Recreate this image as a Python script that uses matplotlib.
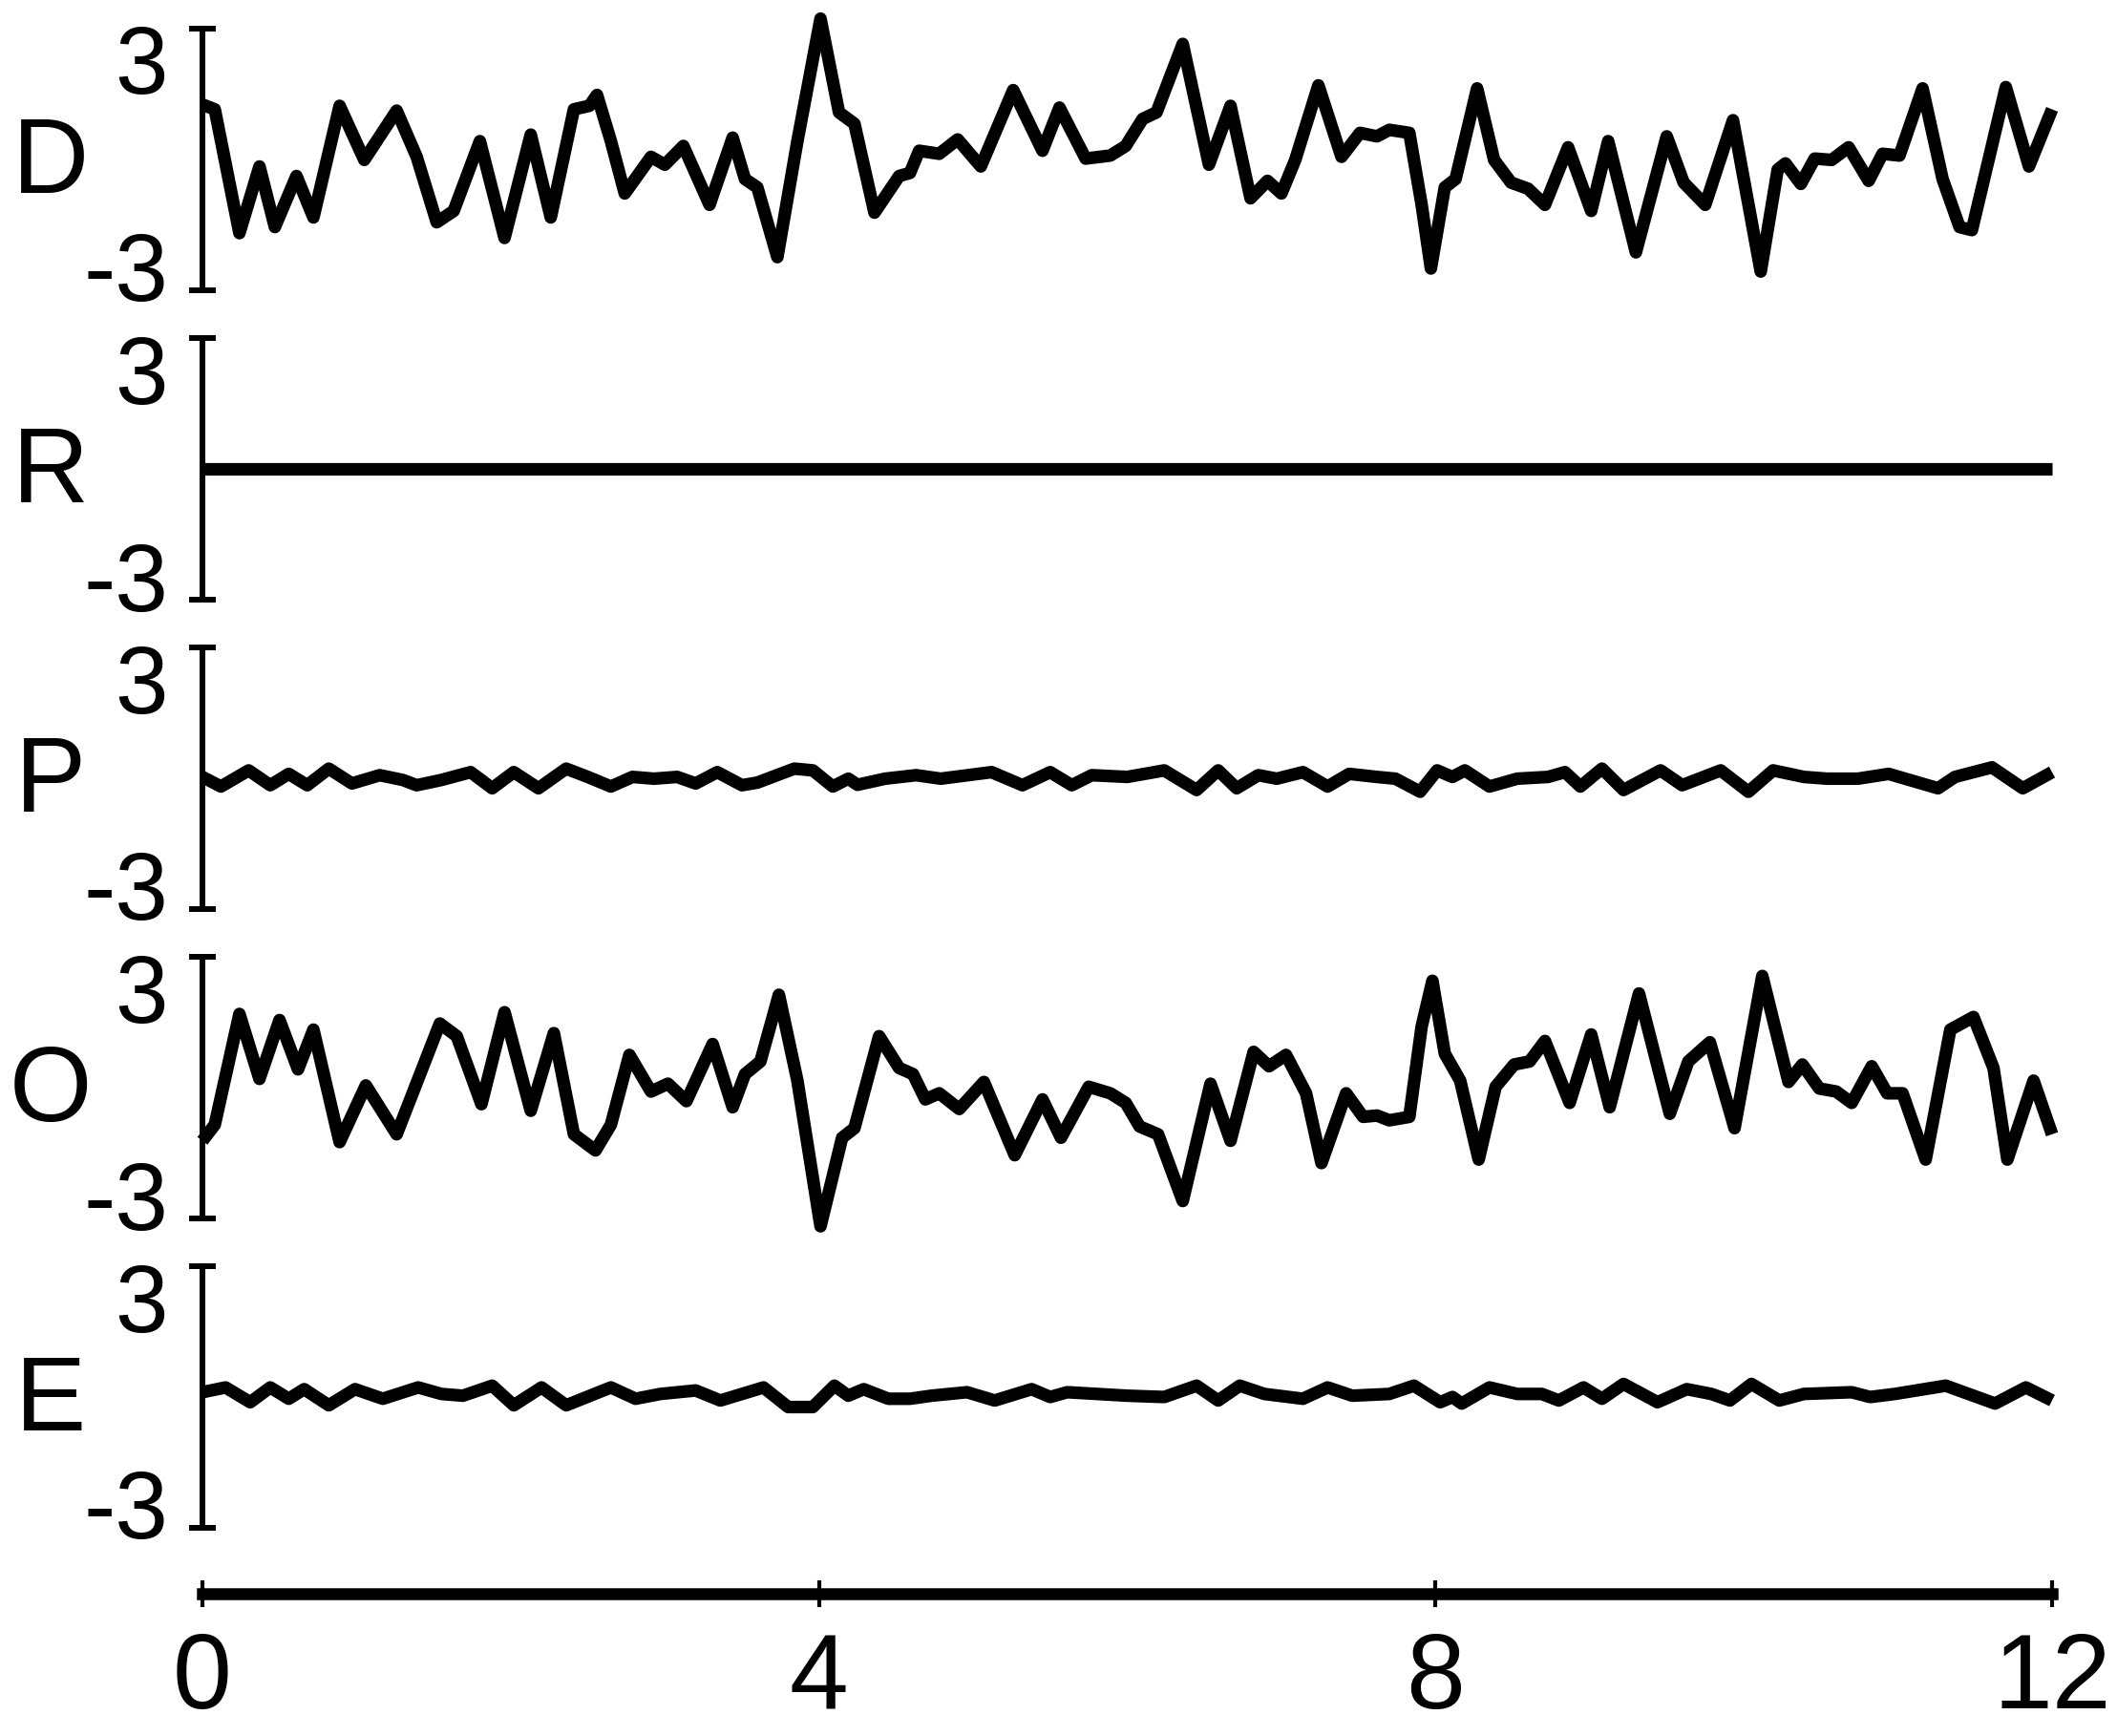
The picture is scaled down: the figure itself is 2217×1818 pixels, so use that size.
import matplotlib
matplotlib.use("Agg")
import matplotlib.pyplot as plt
from matplotlib.transforms import ScaledTranslation

plt.rcParams['font.family'] = ['Liberation Sans', 'DejaVu Sans']

# series (time, value)
d_time = [0, 0.08, 0.24, 0.37, 0.47, 0.61, 0.72, 0.89, 1.05, 1.26,
          1.39, 1.52, 1.63, 1.80, 1.96, 2.13, 2.26, 2.41, 2.51, 2.56,
          2.65, 2.74, 2.91, 3.00, 3.12, 3.29, 3.44, 3.52, 3.60, 3.73,
          3.86, 4.01, 4.13, 4.23, 4.36, 4.52, 4.59, 4.65, 4.78, 4.90,
          5.05, 5.26, 5.45, 5.56, 5.73, 5.89, 5.99, 6.10, 6.19, 6.36,
          6.53, 6.67, 6.80, 6.91, 7.00, 7.09, 7.24, 7.39, 7.51, 7.62,
          7.70, 7.83, 7.91, 7.97, 8.06, 8.13, 8.27, 8.38, 8.49, 8.60,
          8.71, 8.86, 9.01, 9.12, 9.30, 9.50, 9.61, 9.75, 9.93, 10.11,
          10.22, 10.27, 10.37, 10.46, 10.57, 10.68, 10.81, 10.90, 11.01, 11.16,
          11.29, 11.40, 11.48, 11.70, 11.85, 12.0]
d_value = [1.26, 1.15, -1.69, -0.16, -1.55, -0.38, -1.33, 1.23, -0.01, 1.12,
           0.06, -1.44, -1.18, 0.42, -1.80, 0.57, -1.33, 1.15, 1.23, 1.48,
           0.42, -0.78, 0.06, -0.12, 0.31, -1.04, 0.50, -0.45, -0.64, -2.24,
           0.42, 3.23, 1.08, 0.82, -1.22, -0.38, -0.31, 0.20, 0.13, 0.46,
           -0.16, 1.59, 0.20, 1.19, 0.02, 0.09, 0.31, 0.93, 1.08, 2.65,
           -0.12, 1.23, -0.89, -0.49, -0.78, -0.01, 1.70, 0.06, 0.61, 0.53,
           0.68, 0.61, -1.04, -2.50, -0.64, -0.45, 1.63, -0.01, -0.53, -0.67,
           -1.04, 0.28, -1.18, 0.42, -2.13, 0.53, -0.53, -1.04, 0.90, -2.57,
           -0.23, -0.09, -0.56, 0.02, -0.01, 0.28, -0.49, 0.13, 0.09, 1.63,
           -0.45, -1.55, -1.62, 1.66, -0.16, 1.15]

r_time = [0, 12]
r_value = [0, 0]

p_time = [0, 0.12, 0.30, 0.44, 0.56, 0.68, 0.82, 0.97, 1.15, 1.30,
          1.39, 1.55, 1.74, 1.88, 2.02, 2.18, 2.36, 2.50, 2.65, 2.79,
          2.93, 3.08, 3.20, 3.34, 3.50, 3.60, 3.84, 3.96, 4.09, 4.19,
          4.25, 4.43, 4.63, 4.79, 5.12, 5.32, 5.50, 5.64, 5.77, 6.00,
          6.24, 6.45, 6.59, 6.71, 6.85, 6.97, 7.14, 7.30, 7.44, 7.62,
          7.74, 7.90, 8.01, 8.11, 8.19, 8.35, 8.53, 8.73, 8.84, 8.94,
          9.08, 9.22, 9.46, 9.60, 9.85, 10.03, 10.19, 10.39, 10.54, 10.74,
          10.94, 11.26, 11.37, 11.61, 11.81, 12.0]
p_value = [0.03, -0.19, 0.18, -0.16, 0.10, -0.16, 0.22, -0.12, 0.07, -0.04,
           -0.16, -0.04, 0.14, -0.23, 0.14, -0.23, 0.22, 0.03, -0.19, 0.03,
           -0.01, 0.03, -0.12, 0.14, -0.16, -0.10, 0.22, 0.18, -0.19, -0.01,
           -0.15, -0.01, 0.07, -0.01, 0.14, -0.16, 0.14, -0.16, 0.07, 0.03,
           0.18, -0.27, 0.18, -0.23, 0.07, -0.01, 0.14, -0.19, 0.10, 0.03,
           -0.01, -0.31, 0.18, 0.03, 0.18, -0.19, -0.01, 0.03, 0.14, -0.19,
           0.22, -0.27, 0.18, -0.16, 0.18, -0.31, 0.18, 0.03, -0.01, -0.01,
           0.10, -0.23, 0.03, 0.25, -0.23, 0.14]

o_time = [0, 0.08, 0.24, 0.37, 0.50, 0.62, 0.72, 0.89, 1.06, 1.26,
          1.54, 1.65, 1.81, 1.96, 2.13, 2.28, 2.41, 2.55, 2.65, 2.77,
          2.91, 3.02, 3.14, 3.31, 3.44, 3.52, 3.62, 3.74, 3.86, 4.01,
          4.15, 4.23, 4.39, 4.52, 4.61, 4.69, 4.78, 4.91, 5.07, 5.27,
          5.45, 5.57, 5.75, 5.89, 5.99, 6.08, 6.20, 6.36, 6.54, 6.67,
          6.82, 6.92, 7.03, 7.16, 7.26, 7.42, 7.53, 7.62, 7.70, 7.83,
          7.91, 7.98, 8.06, 8.16, 8.28, 8.39, 8.51, 8.61, 8.71, 8.87,
          9.01, 9.13, 9.32, 9.52, 9.64, 9.78, 9.94, 10.12, 10.29, 10.38,
          10.49, 10.60, 10.70, 10.83, 10.93, 11.03, 11.18, 11.34, 11.49, 11.62,
          11.71, 11.88, 12.0]
o_value = [-1.22, -0.85, 1.69, 0.20, 1.55, 0.42, 1.33, -1.25, 0.05, -1.07,
           1.47, 1.18, -0.38, 1.73, -0.53, 1.25, -1.07, -1.44, -0.85, 0.75,
           -0.09, 0.09, -0.31, 1.00, -0.45, 0.31, 0.60, 2.13, 0.16, -3.18,
           -1.15, -0.93, 1.18, 0.45, 0.31, -0.27, -0.13, -0.49, 0.13, -1.55,
           -0.27, -1.15, 0.02, -0.13, -0.35, -0.89, -1.07, -2.60, 0.09, -1.22,
           0.82, 0.49, 0.75, -0.13, -1.73, -0.13, -0.67, -0.64, -0.75, -0.67,
           1.40, 2.45, 0.78, 0.16, -1.65, 0.02, 0.53, 0.60, 1.07, -0.35,
           1.22, -0.45, 2.16, -0.60, 0.60, 1.04, -0.93, 2.56, 0.13, 0.53,
           -0.02, -0.09, -0.35, 0.49, -0.13, -0.13, -1.65, 1.33, 1.62, 0.45,
           -1.65, 0.16, -1.07]

e_time = [0, 0.15, 0.31, 0.44, 0.56, 0.66, 0.82, 0.99, 1.17, 1.40,
          1.55, 1.69, 1.88, 2.02, 2.20, 2.36, 2.65, 2.81, 2.97, 3.20,
          3.36, 3.64, 3.80, 3.96, 4.10, 4.19, 4.29, 4.45, 4.59, 4.73,
          4.96, 5.14, 5.38, 5.50, 5.61, 6.00, 6.24, 6.45, 6.59, 6.73,
          6.89, 7.14, 7.30, 7.46, 7.70, 7.86, 8.03, 8.11, 8.17, 8.35,
          8.53, 8.69, 8.80, 8.96, 9.08, 9.22, 9.44, 9.63, 9.79, 9.91,
          10.05, 10.23, 10.39, 10.70, 10.82, 10.98, 11.31, 11.63, 11.83, 12.0]
e_value = [0.11, 0.22, -0.12, 0.22, -0.04, 0.18, -0.19, 0.18, -0.04, 0.22,
           0.07, 0.03, 0.26, -0.19, 0.22, -0.19, 0.22, -0.04, 0.07, 0.15,
           -0.08, 0.22, -0.23, -0.23, 0.26, 0.03, 0.18, -0.04, -0.04, 0.03,
           0.11, -0.08, 0.18, 0.00, 0.11, 0.03, 0.00, 0.26, -0.08, 0.26,
           0.07, -0.04, 0.22, 0.03, 0.07, 0.26, -0.12, 0.00, -0.15, 0.22,
           0.07, 0.07, -0.08, 0.22, -0.04, 0.30, -0.12, 0.18, 0.07, -0.08,
           0.30, -0.08, 0.07, 0.11, 0.00, 0.07, 0.26, -0.15, 0.22, -0.08]

names = ['D', 'R', 'P', 'O', 'E']
series = [(d_time, d_value), (r_time, r_value), (p_time, p_value),
          (o_time, o_value), (e_time, e_value)]
x_ticks = [0, 4, 8, 12]

W, H = 2217, 1818
fig = plt.figure(figsize=(W / 100, H / 100), dpi=100)

left, right = 212, 2149
span = 274          # pixels between -3 and 3
unit = span / 6.0
pad = 0.3

for i, (name, (t, v)) in enumerate(zip(names, series)):
    top = 30 + 324 * i
    bottom = top + span
    ax = fig.add_axes([left / W, 1 - (bottom + pad * unit) / H,
                       (right - left) / W, (span + 2 * pad * unit) / H])
    ax.plot(t, v, color='black', lw=9.5, solid_joinstyle='round',
            solid_capstyle='butt', clip_on=False)
    ax.set_xlim(0, 12)
    ax.set_ylim(-3 - pad, 3 + pad)
    for s in ['top', 'right', 'bottom']:
        ax.spines[s].set_visible(False)
    ax.spines['left'].set_linewidth(4.3)
    ax.spines['left'].set_bounds(-3, 3)
    ax.set_yticks([-3, 3])
    ax.set_yticklabels(['-3', '3'])
    ax.tick_params(axis='y', direction='inout', length=20, width=4.3,
                   labelsize=72, pad=16)
    labs = ax.get_yticklabels()
    labs[0].set_transform(labs[0].get_transform() +
                          ScaledTranslation(0, 0.25, fig.dpi_scale_trans))
    labs[1].set_transform(labs[1].get_transform() +
                          ScaledTranslation(0, -0.32, fig.dpi_scale_trans))
    ax.patch.set_visible(False)
    fig.text(0.024, 1 - (top + span / 2 + 6) / H, name, fontsize=80,
             ha='center', va='center')
    if name == 'E':
        ax.spines['bottom'].set_visible(True)
        ax.spines['bottom'].set_position(('outward', 40))
        ax.spines['bottom'].set_linewidth(9)
        ax.spines['bottom'].set_bounds(0, 12)
        ax.set_xticks(x_ticks)
        ax.set_xticklabels([str(x) for x in x_ticks])
        ax.tick_params(axis='x', direction='inout', length=20, width=3,
                       labelsize=80, pad=18)
    else:
        ax.set_xticks([])

fig.savefig('out.png', dpi=100)
